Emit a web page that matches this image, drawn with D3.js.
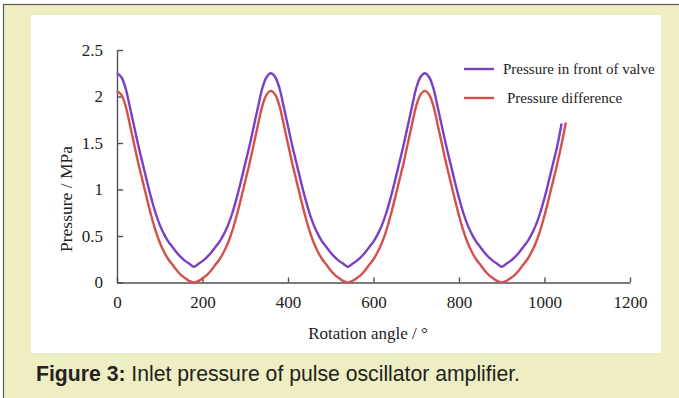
<!DOCTYPE html>
<html><head><meta charset="utf-8">
<script src="https://cdn.jsdelivr.net/npm/d3@7"></script>
<style>
html,body{margin:0;padding:0;background:#fff;}
svg{display:block;}
</style></head>
<body>
<script>
// Rotation angle (degrees)
const anglesFront = [0,10,20,30,40,50,60,70,80,90,100,110,120,130,140,150,160,170,180,
 190,200,210,220,230,240,250,260,270,280,290,300,310,320,330,340,350,360,
 370,380,390,400,410,420,430,440,450,460,470,480,490,500,510,520,530,540,
 550,560,570,580,590,600,610,620,630,640,650,660,670,680,690,700,710,720,
 730,740,750,760,770,780,790,800,810,820,830,840,850,860,870,880,890,900,
 910,920,930,940,950,960,970,980,990,1000,1010,1020,1030,1040];
// Pressure in front of valve (MPa)
const pressureFront = [2.25,2.21,2.09,1.89,1.68,1.47,1.28,1.09,0.91,0.75,0.62,0.52,0.44,0.38,0.32,0.27,0.23,0.20,0.17,
 0.20,0.23,0.27,0.32,0.38,0.44,0.52,0.62,0.75,0.91,1.09,1.28,1.47,1.68,1.89,2.09,2.21,2.25,
 2.21,2.09,1.89,1.68,1.47,1.28,1.09,0.91,0.75,0.62,0.52,0.44,0.38,0.32,0.27,0.23,0.20,0.17,
 0.20,0.23,0.27,0.32,0.38,0.44,0.52,0.62,0.75,0.91,1.09,1.28,1.47,1.68,1.89,2.09,2.21,2.25,
 2.21,2.09,1.89,1.68,1.47,1.28,1.09,0.91,0.75,0.62,0.52,0.44,0.38,0.32,0.27,0.23,0.20,0.17,
 0.20,0.23,0.27,0.32,0.38,0.44,0.52,0.62,0.75,0.91,1.09,1.28,1.47,1.71];
const anglesDiff = [0,10,20,30,40,50,60,70,80,90,100,110,120,130,140,150,160,170,180,
 190,200,210,220,230,240,250,260,270,280,290,300,310,320,330,340,350,360,
 370,380,390,400,410,420,430,440,450,460,470,480,490,500,510,520,530,540,
 550,560,570,580,590,600,610,620,630,640,650,660,670,680,690,700,710,720,
 730,740,750,760,770,780,790,800,810,820,830,840,850,860,870,880,890,900,
 910,920,930,940,950,960,970,980,990,1000,1010,1020,1030,1040,1050];
// Pressure difference (MPa)
const pressureDiff = [2.06,2.02,1.90,1.70,1.49,1.28,1.09,0.90,0.72,0.56,0.43,0.33,0.25,0.19,0.13,0.08,0.045,0.015,0,
 0.015,0.045,0.08,0.13,0.19,0.25,0.33,0.43,0.56,0.72,0.90,1.09,1.28,1.49,1.70,1.90,2.02,2.06,
 2.02,1.90,1.70,1.49,1.28,1.09,0.90,0.72,0.56,0.43,0.33,0.25,0.19,0.13,0.08,0.045,0.015,0,
 0.015,0.045,0.08,0.13,0.19,0.25,0.33,0.43,0.56,0.72,0.90,1.09,1.28,1.49,1.70,1.90,2.02,2.06,
 2.02,1.90,1.70,1.49,1.28,1.09,0.90,0.72,0.56,0.43,0.33,0.25,0.19,0.13,0.08,0.045,0.015,0,
 0.015,0.045,0.08,0.13,0.19,0.25,0.33,0.43,0.56,0.72,0.90,1.09,1.28,1.49,1.72];
const seriesNames = ["Pressure in front of valve","Pressure difference"];
const seriesColors = ["#7b3fc6","#d4504b"];
const xTicks = [0,200,400,600,800,1000,1200];
const yTicks = [0,0.5,1,1.5,2,2.5];
const yTickLabels = ["0","0.5","1","1.5","2","2.5"];
const xLabel = "Rotation angle / °";
const yLabel = "Pressure / MPa";
const captionBold = "Figure 3:";
const captionText = " Inlet pressure of pulse oscillator amplifier.";

const W = 679, H = 398;
const svg = d3.select("body").append("svg").attr("width", W).attr("height", H);

// frame
svg.append("rect").attr("x",0).attr("y",0).attr("width",W).attr("height",H).attr("fill","#ffffff");
svg.append("rect").attr("x",3.5).attr("y",4.5).attr("width",W).attr("height",H).attr("fill","#efeec3").attr("stroke","#5a5a5a").attr("stroke-width",1.2);
svg.append("rect").attr("x",31).attr("y",15).attr("width",630).attr("height",338).attr("fill","#ffffff");

const x = d3.scaleLinear().domain([0,1200]).range([117,630]);
const y = d3.scaleLinear().domain([0,2.5]).range([282.5,50]);

const axisColor = "#505050";
const serif = "'Liberation Serif','Times New Roman',serif";

const gx = svg.append("g").attr("transform",`translate(0,${y(0)})`)
  .call(d3.axisBottom(x).tickValues(xTicks).tickSizeInner(-5).tickSizeOuter(0).tickPadding(13).tickFormat(d3.format("d")));
const gy = svg.append("g").attr("transform",`translate(${x(0)},0)`)
  .call(d3.axisLeft(y).tickValues(yTicks).tickSizeInner(-6).tickSizeOuter(0).tickPadding(14).tickFormat((d,i)=>yTickLabels[i]));
[gx,gy].forEach(g=>{
  g.select(".domain").attr("stroke",axisColor).attr("stroke-width",1.4);
  g.selectAll(".tick line").attr("stroke",axisColor).attr("stroke-width",1.4);
  g.selectAll(".tick text").attr("fill","#222").attr("font-family",serif).attr("font-size",17);
});

const line = d3.line().curve(d3.curveCatmullRom.alpha(0.5));
const seriesData = [
  anglesFront.map((a,i)=>[x(a), y(pressureFront[i])]),
  anglesDiff.map((a,i)=>[x(a), y(pressureDiff[i])])
];
// draw red first then purple on top
[1,0].forEach(k=>{
  svg.append("path").attr("d", line(seriesData[k])).attr("fill","none")
    .attr("stroke", seriesColors[k]).attr("stroke-width",2.4).attr("stroke-linejoin","round");
});

// legend
const legY = [69, 98];
seriesNames.forEach((n,i)=>{
  svg.append("line").attr("x1",464).attr("x2",494).attr("y1",legY[i]).attr("y2",legY[i])
    .attr("stroke",seriesColors[i]).attr("stroke-width",2.4);
  svg.append("text").attr("x", i===0?503:507).attr("y",legY[i]+5).text(n)
    .attr("font-family",serif).attr("font-size",15).attr("fill","#222");
});

// axis titles
svg.append("text").attr("x",368).attr("y",339).attr("text-anchor","middle").text(xLabel)
  .attr("font-family",serif).attr("font-size",17).attr("fill","#222");
svg.append("text").attr("transform","translate(72,199) rotate(-90)").attr("text-anchor","middle").text(yLabel)
  .attr("font-family",serif).attr("font-size",17.5).attr("fill","#222");

// caption
const cap = svg.append("text").attr("x",36).attr("y",381)
  .attr("font-family","'Liberation Sans',Arial,sans-serif").attr("font-size",21.2).attr("fill","#222");
cap.append("tspan").attr("font-weight","bold").text(captionBold);
cap.append("tspan").text(captionText);
</script>
</body></html>
